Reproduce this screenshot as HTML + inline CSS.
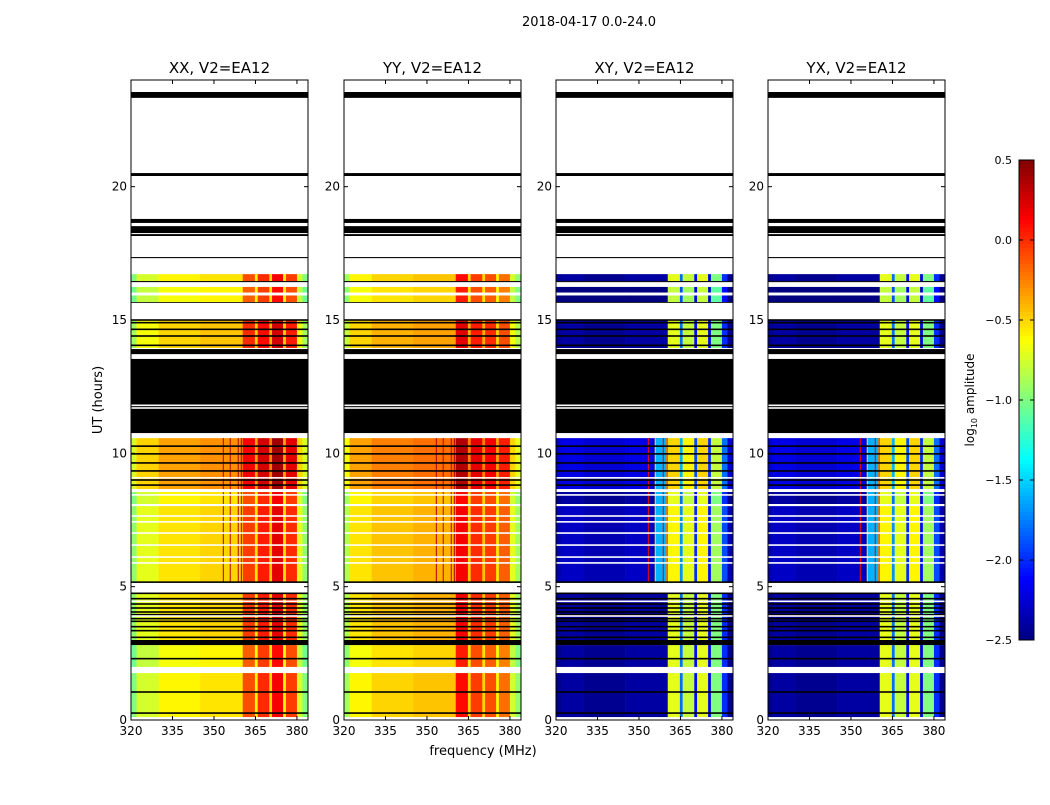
<!DOCTYPE html>
<html><head><meta charset="utf-8">
<style>
body{margin:0;background:#fff;font-family:"Liberation Sans","DejaVu Sans",sans-serif;}
svg text{font-family:"DejaVu Sans","Liberation Sans",sans-serif;}
</style></head>
<body>
<svg id="chart" width="1050" height="800" xmlns="http://www.w3.org/2000/svg">
<rect width="1050" height="800" fill="#fff"/>
<text x="589" y="26" font-size="13" text-anchor="middle">2018-04-17 0.0-24.0</text>
<text x="0" y="0" font-size="13" text-anchor="middle" transform="translate(102,400) rotate(-90)">UT (hours)</text>
<text x="483" y="755" font-size="13" text-anchor="middle">frequency (MHz)</text>
<g id="panels"></g>
<g id="cbar"></g>
</svg>
<script>
// ---- data ----
const panelTitles = ["XX, V2=EA12","YY, V2=EA12","XY, V2=EA12","YX, V2=EA12"];
const xTicks = [320,335,350,365,380];
const yTicks = [0,5,10,15,20];
const cbarTicks = [0.5,0.0,-0.5,-1.0,-1.5,-2.0,-2.5];
// frequency bands (MHz) start edges
const bandStart = [320,322,330,345,360.4,364.8,365.8,370,371,375,376,380,382,384];
const valXX = [-1.0,-0.75,-0.6,-0.55,-0.1,-0.6,0.0,-0.5,0.15,-0.6,-0.05,-0.75,-1.0];
const valYY = [-0.9,-0.6,-0.5,-0.45,0.1,-0.5,-0.05,-0.5,-0.1,-0.6,-0.2,-0.75,-0.95];
const valXY = [-2.45,-2.4,-2.45,-2.4,-0.7,-1.8,-0.8,-2.1,-0.7,-2.2,-1.0,-2.0,-2.45];
const valYX = [-2.45,-2.4,-2.45,-2.4,-0.7,-1.8,-0.8,-2.1,-0.7,-2.2,-1.0,-2.0,-2.45];
// data segments in hours: start, end
const dataStart = [0.11,1.99,3.0,5.17,8.1,8.66,13.95,15.67,16.46];
const dataEnd   = [1.76,2.81,4.76,8.02,8.55,10.57,15.0,16.24,16.72];
const offPar    = [0.0,-0.05,0.05,0.05,0.0,0.25,0.1,-0.05,0.0];
const offCross  = [0.0,0.0,0.0,0.1,0.0,0.2,0.0,-0.1,0.0];
const rfiSeg    = [0,0,0,1,1,1,0,0,0];
// flagged (black) blocks in hours
const flagStart = [23.33,20.4,18.64,18.26,18.15,17.32,16.42,15.64,13.72,10.76,2.81];
const flagEnd   = [23.55,20.51,18.79,18.52,18.22,17.36,16.46,15.67,13.91,13.57,3.0];
// thin black flag lines (hours)
const flagLines = [0.26,1.05,2.3,3.1,3.35,3.5,3.7,3.8,3.95,4.05,4.2,4.35,4.55,4.75,5.17,8.81,9.0,9.34,9.64,9.98,10.27,14.05,14.4,14.65,14.9,15.0];
// thin white gaps (hours)
const whiteLines = [5.89,6.11,6.56,7.01,7.43,7.65,8.44,9.08,11.7,11.8,13.57,15.95,16.0,4.45,3.9];
// vertical RFI lines (MHz)
const rfiFreq = [353.2,355.7,358.6,359.7];
const rfiValPar = [0.35,0.3,0.35,0.4];
const rfiValCross = [0.1,-0.6,0.2,-0.2];
const rfiBandCross = -1.6;

// ---- geometry ----
const panelX = [131,344,556,768];
const pw = 177, plotTop = 80, plotBottom = 720;
const fmin = 320, fmax = 384;
function xs(i,f){return panelX[i] + (f-fmin)/(fmax-fmin)*pw;}
function ys(h){return plotBottom - h/24*(plotBottom-plotTop);}
function jet(v){
  let t=(v+2.5)/3; t=Math.max(0,Math.min(1,t));
  const c=x=>Math.round(255*Math.max(0,Math.min(1,x)));
  const r=1.5-Math.abs(4*t-3), g=1.5-Math.abs(4*t-2), b=1.5-Math.abs(4*t-1);
  return `rgb(${c(r)},${c(g)},${c(b)})`;
}
const NS="http://www.w3.org/2000/svg";
function el(tag,attrs,parent){const e=document.createElementNS(NS,tag);for(const k in attrs)e.setAttribute(k,attrs[k]);parent.appendChild(e);return e;}
const root=document.getElementById('panels');
const vals=[valXX,valYY,valXY,valYX];
for(let p=0;p<4;p++){
  const g=el('g',{},root);
  
  
  const cross=p>=2;
  for(let s=0;s<dataStart.length;s++){
    const y1=ys(dataEnd[s]), y2=ys(dataStart[s]);
    for(let b=0;b<bandStart.length-1;b++){
      let v=vals[p][b]+(cross?offCross[s]:offPar[s]);
      const r=el('rect',{x:xs(p,bandStart[b]),y:y1,width:xs(p,bandStart[b+1])-xs(p,bandStart[b])+0.3,height:y2-y1,fill:jet(v)},g);
      
      
    }
    if(rfiSeg[s]){
      if(cross){
        const r=el('rect',{x:xs(p,356),y:y1,width:xs(p,360.4)-xs(p,356),height:y2-y1,fill:jet(rfiBandCross)},g);
        
        
      }
      for(let k=0;k<rfiFreq.length;k++){
        const v=cross?rfiValCross[k]:rfiValPar[k];
        const r=el('rect',{x:xs(p,rfiFreq[k]),y:y1,width:1,height:y2-y1,fill:jet(v)},g);
        
        
      }
    }
  }
  for(let k=0;k<flagStart.length;k++){
    const r=el('rect',{x:panelX[p],y:ys(flagEnd[k]),width:pw,height:ys(flagStart[k])-ys(flagEnd[k]),fill:'#000'},g);
    
    
  }
  for(const h of flagLines){
    const r=el('rect',{x:panelX[p],y:ys(h)-0.8,width:pw,height:1.6,fill:'#000'},g);
    
    
  }
  for(const h of whiteLines){
    const r=el('rect',{x:panelX[p],y:ys(h)-0.8,width:pw,height:1.6,fill:'#fff'},g);
    
    
  }
  const fr=el('rect',{x:panelX[p],y:plotTop,width:pw,height:plotBottom-plotTop,fill:'none',stroke:'#000','stroke-width':1},g);
  
  
  const t=el('text',{x:panelX[p]+pw/2,y:73,'font-size':15,'text-anchor':'middle'},g);
  t.textContent=panelTitles[p];
  
  
  for(const f of xTicks){
    const x=xs(p,f);
    el('line',{x1:x,x2:x,y1:plotBottom,y2:plotBottom-4,stroke:'#000'},g);
    el('line',{x1:x,x2:x,y1:plotTop,y2:plotTop+4,stroke:'#000'},g);
    const tt=el('text',{x:x,y:plotBottom+15,'font-size':12,'text-anchor':'middle'},g);
    tt.textContent=f;
    
    
  }
  for(const h of yTicks){
    const y=ys(h);
    el('line',{x1:panelX[p],x2:panelX[p]+4,y1:y,y2:y,stroke:'#000'},g);
    el('line',{x1:panelX[p]+pw,x2:panelX[p]+pw-4,y1:y,y2:y,stroke:'#000'},g);
    const tt=el('text',{x:panelX[p]-4,y:y+4,'font-size':12,'text-anchor':'end'},g);
    tt.textContent=h;
    
    
  }
}
// colorbar
const cb=document.getElementById('cbar');
const cbX=1019,cbW=15,cbT=160,cbB=640;
for(let i=0;i<120;i++){
  const v=0.5-3*(i+0.5)/120;
  el('rect',{x:cbX,y:cbT+i*(cbB-cbT)/120,width:cbW,height:(cbB-cbT)/120+0.5,fill:jet(v)},cb);
}
el('rect',{x:cbX,y:cbT,width:cbW,height:cbB-cbT,fill:'none',stroke:'#000'},cb);
for(const v of cbarTicks){
  const y=cbT+(0.5-v)/3*(cbB-cbT);
  el('line',{x1:cbX,x2:cbX+4,y1:y,y2:y,stroke:'#000'},cb);
  el('line',{x1:cbX+cbW,x2:cbX+cbW-4,y1:y,y2:y,stroke:'#000'},cb);
  const t=el('text',{x:1012,y:y+4,'font-size':11,'text-anchor':'end'},cb);
  t.textContent=(v<0?'\u2212':'')+Math.abs(v).toFixed(1);
  
  
}
const lt=el('text',{transform:'translate(974,400) rotate(-90)','font-size':12,'text-anchor':'middle'},cb);


const ts1=el('tspan',{},lt); ts1.textContent='log';
const ts2=el('tspan',{'font-size':8,dy:3},lt); ts2.textContent='10';
const ts3=el('tspan',{dy:-3},lt); ts3.textContent=' amplitude';
</script>
</body></html>
